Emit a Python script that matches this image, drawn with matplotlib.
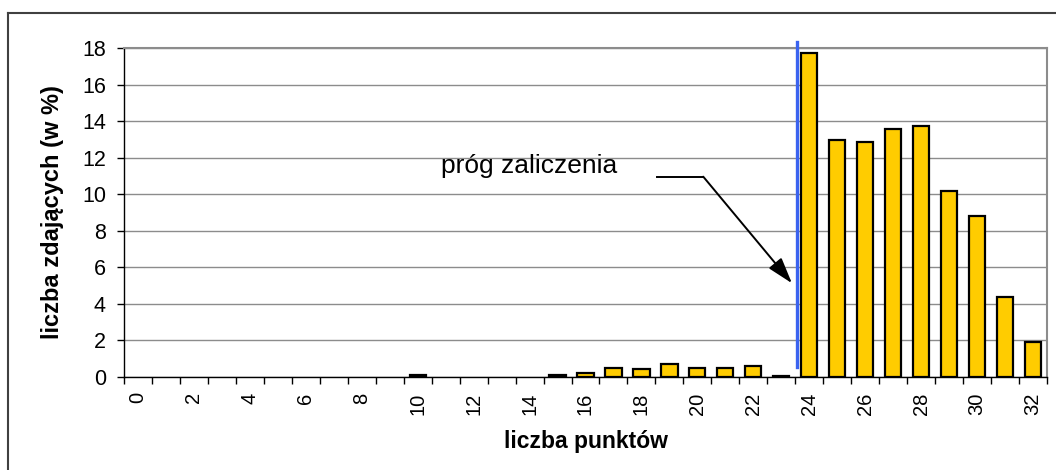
import matplotlib.pyplot as plt
from matplotlib.lines import Line2D

plt.rcParams['font.family'] = ['Liberation Sans', 'DejaVu Sans']

# points scored (categories) and share of candidates in %
points = list(range(33))
percent = [0, 0, 0, 0, 0, 0, 0, 0, 0, 0, 0.1, 0, 0, 0, 0, 0.1, 0.2, 0.5, 0.46,
           0.73, 0.5, 0.5, 0.6, 0.05, 17.7, 12.96, 12.86, 13.58, 13.73, 10.19,
           8.81, 4.36, 1.93]
tick_labels = [str(p) if p % 2 == 0 else '' for p in points]
pass_mark = 23.56

fig = plt.figure(figsize=(10.56, 4.7), dpi=100)
ax = fig.add_axes([0.1174, 0.1979, 0.8741, 0.7])

# empty categories get no bar at all
xs = [p for p, v in zip(points, percent) if v > 0]
vs = [v for v in percent if v > 0]
ax.bar(xs, vs, width=0.58, color='#FFCC00', edgecolor='black',
       linewidth=1.6, zorder=3)

ax.set_xlim(-0.5, 32.5)
ax.set_ylim(0, 18)
ax.set_yticks(range(0, 19, 2))
ax.yaxis.grid(True, color='#8c8c8c', linewidth=1)
ax.set_axisbelow(True)

# category labels at centres, tick marks at boundaries
ax.set_xticks(points)
ax.set_xticklabels(tick_labels, rotation=90, fontsize=14.5)
ax.set_xticks([p - 0.5 for p in points] + [32.5], minor=True)
ax.tick_params(axis='x', which='major', length=0, pad=11)
ax.tick_params(axis='x', which='minor', length=5, width=1, direction='out')
ax.tick_params(axis='y', length=5, width=1, labelsize=15.5, pad=8)

for s in ['top', 'right']:
    ax.spines[s].set_color('#8c8c8c')
    ax.spines[s].set_linewidth(1.5)
for s in ['left', 'bottom']:
    ax.spines[s].set_color('black')
    ax.spines[s].set_linewidth(1)

ax.set_ylabel('liczba zdających (w %)', fontsize=17, fontweight='bold', labelpad=13)
ax.set_xlabel('liczba punktów', fontsize=16.5, fontweight='bold', labelpad=11)

# pass threshold line
ax.plot([pass_mark, pass_mark], [0.55, 18.35], color='#3A63F0', linewidth=2.4,
        clip_on=False, zorder=4)

ax.text(10.85, 11.55, 'próg zaliczenia', fontsize=19, va='center', ha='left')
ax.plot([18.57, 20.21], [10.96, 10.96], color='black', linewidth=1.4, zorder=4)
ax.annotate('', xy=(23.38, 5.13), xytext=(20.21, 10.96),
            arrowprops=dict(arrowstyle='-|>,head_length=1.6,head_width=0.5',
                            color='black', linewidth=1.4, shrinkA=0, shrinkB=0),
            zorder=4)

# outer chart frame
fig.add_artist(Line2D([8 / 1056, 1], [1 - 13 / 470, 1 - 13 / 470],
                      color='#404040', linewidth=1.5))
fig.add_artist(Line2D([8 / 1056, 8 / 1056], [0, 1 - 13 / 470],
                      color='#404040', linewidth=1.5))

fig.savefig('out.png', dpi=100)
